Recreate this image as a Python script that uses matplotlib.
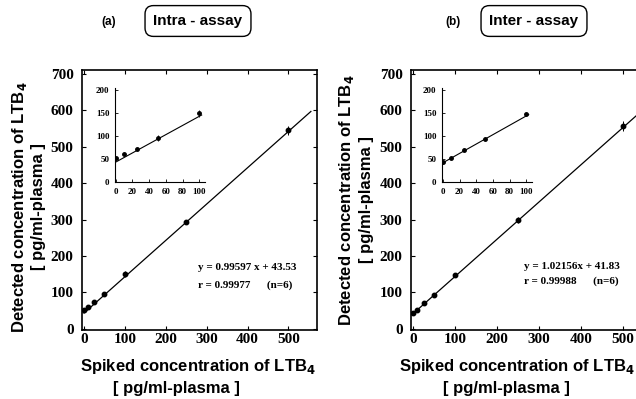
import matplotlib.pyplot as plt

# spiked concentrations (pg/ml-plasma)
spiked = [0, 10, 25, 50, 100, 250, 500]
intra_detected = [52, 60, 73, 96, 150, 294, 545]
intra_err = [3, 2, 2, 6, 8, 4, 12]
inter_detected = [43, 52, 70, 94, 148, 298, 557]
inter_err = [3, 2, 2, 3, 3, 8, 14]

# regression lines
intra_fit = (0.99597, 43.53)
inter_fit = (1.02156, 41.83)
intra_text = ["y = 0.99597 x + 43.53", "r = 0.99977      (n=6)"]
inter_text = ["y = 1.02156x + 41.83", "r = 0.99988      (n=6)"]

# numbers in the figure are a narrow bold serif
plt.rcParams['font.family'] = ['Liberation Serif', 'DejaVu Serif']
plt.rcParams['font.weight'] = 'bold'

W, H = 636, 399
fig = plt.figure(figsize=(W / 100, H / 100), dpi=100)


def rect(x0, y0, x1, y1):
    # pixel box (top-left origin) -> figure fraction
    return [x0 / W, 1 - y1 / H, (x1 - x0) / W, (y1 - y0) / H]


label_font = ['Liberation Sans', 'DejaVu Sans']


def panel(main_box, inset_box, xmax, y, err, fit, txt, txt_pos, gap, tag, title, tag_x, box_x):
    ax = fig.add_axes(rect(*main_box))
    ax.errorbar(spiked, y, yerr=err, fmt='o', color='k', ms=3.2, elinewidth=0.7, capsize=0)
    xs = [0, xmax - 15]
    ax.plot(xs, [fit[0] * v + fit[1] for v in xs], color='k', lw=0.9)
    ax.set_xlim(-5, xmax)
    ax.set_ylim(-3, 710)
    ax.set_xticks(range(0, 501, 100))
    ax.set_yticks(range(0, 701, 100))
    ax.tick_params(direction='in', length=3, width=0.8, top=True, right=True, labelsize=11)
    ax.tick_params(axis='x', pad=2)
    ax.tick_params(axis='y', pad=6)
    for s in ax.spines.values():
        s.set_linewidth(1.2)
    ax.text(txt_pos[0], txt_pos[1], txt[0], fontsize=8, va='center')
    ax.text(txt_pos[0], txt_pos[1] - gap, txt[1], fontsize=8, va='center')

    ins = fig.add_axes(rect(*inset_box))
    ins.errorbar(spiked[:5], y[:5], yerr=err[:5], fmt='o', color='k', ms=2.5,
                 elinewidth=0.6, capsize=0)
    ins.plot([0, 103], [fit[1], fit[0] * 103 + fit[1]], color='k', lw=0.8)
    ins.set_xlim(-1, 107)
    ins.set_ylim(0, 205)
    ins.set_xticks(range(0, 101, 20))
    ins.set_yticks(range(0, 201, 50))
    ins.spines['top'].set_visible(False)
    ins.spines['right'].set_visible(False)
    ins.patch.set_alpha(0)
    ins.tick_params(direction='in', length=2, width=0.6, labelsize=6.5, pad=4)

    # titles
    fig.text(tag_x / W, 1 - 22 / H, tag, fontsize=8.5, fontweight='bold',
             family=label_font, ha='center', va='center')
    fig.text(box_x / W, 1 - 21 / H, title, fontsize=11, fontweight='bold',
             family=label_font, ha='center', va='center',
             bbox=dict(boxstyle='round,pad=0.55', fc='white', ec='k', lw=1.0))
    return ax


panel((82, 70, 317, 330), (115, 88, 205, 182), 570, intra_detected, intra_err,
      intra_fit, intra_text, (278, 168), 49, '(a)', 'Intra - assay', 109, 198)
panel((411, 70, 650, 330), (442, 88, 532, 182), 564, inter_detected, inter_err,
      inter_fit, inter_text, (264, 172), 41, '(b)', 'Inter - assay', 453, 534)

# axis titles
for x1, x2, yc in [(20, 39, 207), (346, 367, 200)]:
    fig.text(x1 / W, 1 - yc / H, 'Detected concentration of LTB$_4$', rotation=90,
             fontsize=12, fontweight='bold', family=label_font, ha='center', va='center')
    fig.text(x2 / W, 1 - yc / H, '[ pg/ml-plasma ]', rotation=90,
             fontsize=12, fontweight='bold', family=label_font, ha='center', va='center')
for x1, x2 in [(198, 176), (517, 506)]:
    fig.text(x1 / W, 1 - 366 / H, 'Spiked concentration of LTB$_4$',
             fontsize=12, fontweight='bold', family=label_font, ha='center', va='center')
    fig.text(x2 / W, 1 - 388 / H, '[ pg/ml-plasma ]',
             fontsize=12, fontweight='bold', family=label_font, ha='center', va='center')

fig.savefig('out.png', dpi=100)
